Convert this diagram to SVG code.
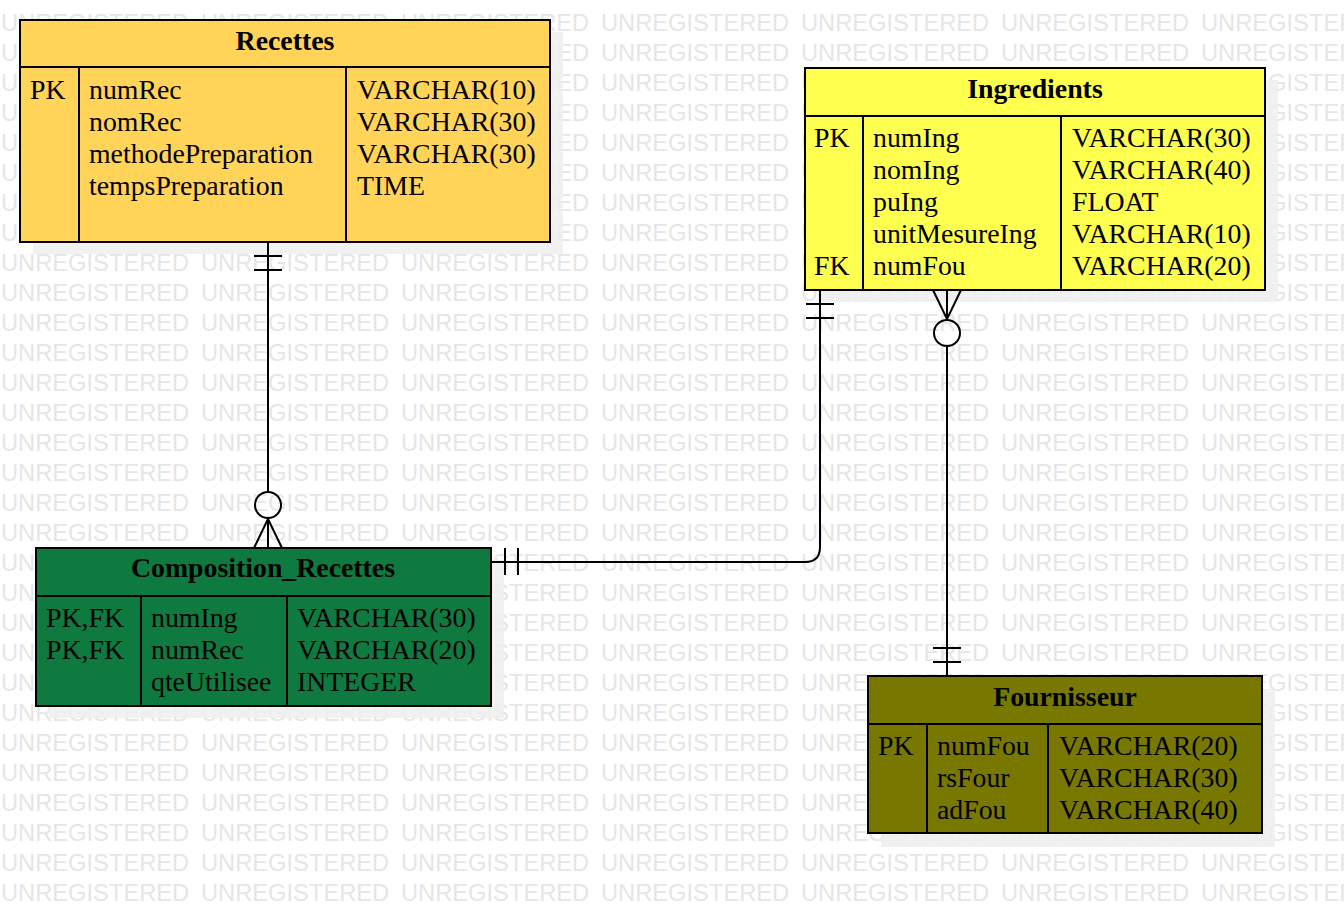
<svg xmlns="http://www.w3.org/2000/svg" xmlns:xlink="http://www.w3.org/1999/xlink" width="1344" height="914" viewBox="0 0 1344 914">
<style>
.wm{font-family:"Liberation Sans",Arial,sans-serif;font-size:23.7px;fill:#e6e6e6}
.shadow{fill:#eeeeee;opacity:0.85}
.box{stroke:#000;stroke-width:2}
.div{stroke:#000;stroke-width:2;fill:none}
.t{font-family:"Liberation Serif","Times New Roman",serif;font-size:27.8px;fill:#000}
.title{font-family:"Liberation Serif","Times New Roman",serif;font-size:27.8px;font-weight:bold;fill:#000;text-anchor:middle}
.conn{stroke:#000;stroke-width:2;fill:none}
</style>
<defs>
<text id="wmrow" class="wm"><tspan x="1">UNREGISTERED</tspan><tspan x="201">UNREGISTERED</tspan><tspan x="401">UNREGISTERED</tspan><tspan x="601">UNREGISTERED</tspan><tspan x="801">UNREGISTERED</tspan><tspan x="1001">UNREGISTERED</tspan><tspan x="1201">UNREGISTERED</tspan></text>
</defs>
<rect width="1344" height="914" fill="#ffffff"/>
<g id="watermark">
<use xlink:href="#wmrow" y="30.5"/><use xlink:href="#wmrow" y="60.5"/><use xlink:href="#wmrow" y="90.5"/><use xlink:href="#wmrow" y="120.5"/><use xlink:href="#wmrow" y="150.5"/><use xlink:href="#wmrow" y="180.5"/><use xlink:href="#wmrow" y="210.5"/><use xlink:href="#wmrow" y="240.5"/><use xlink:href="#wmrow" y="270.5"/><use xlink:href="#wmrow" y="300.5"/><use xlink:href="#wmrow" y="330.5"/><use xlink:href="#wmrow" y="360.5"/><use xlink:href="#wmrow" y="390.5"/><use xlink:href="#wmrow" y="420.5"/><use xlink:href="#wmrow" y="450.5"/><use xlink:href="#wmrow" y="480.5"/><use xlink:href="#wmrow" y="510.5"/><use xlink:href="#wmrow" y="540.5"/><use xlink:href="#wmrow" y="570.5"/><use xlink:href="#wmrow" y="600.5"/><use xlink:href="#wmrow" y="630.5"/><use xlink:href="#wmrow" y="660.5"/><use xlink:href="#wmrow" y="690.5"/><use xlink:href="#wmrow" y="720.5"/><use xlink:href="#wmrow" y="750.5"/><use xlink:href="#wmrow" y="780.5"/><use xlink:href="#wmrow" y="810.5"/><use xlink:href="#wmrow" y="840.5"/><use xlink:href="#wmrow" y="870.5"/><use xlink:href="#wmrow" y="900.5"/>
</g>
<g id="shadows">
<rect class="shadow" x="33" y="32" width="530" height="222"/>
<rect class="shadow" x="818" y="80" width="460" height="222"/>
<rect class="shadow" x="49" y="560" width="455" height="158"/>
<rect class="shadow" x="881" y="689" width="394" height="158"/>
</g>
<g id="Recettes">
<rect class="box" x="20" y="20" width="530" height="222" fill="#FFD458"/>
<line class="div" x1="20" y1="67" x2="550" y2="67"/>
<line class="div" x1="79" y1="67" x2="79" y2="242"/>
<line class="div" x1="346" y1="67" x2="346" y2="242"/>
<text class="title" x="285" y="50">Recettes</text>
<text class="t" x="30" y="99">PK</text>
<text class="t" x="89" y="99">numRec</text>
<text class="t" x="89" y="131">nomRec</text>
<text class="t" x="89" y="163">methodePreparation</text>
<text class="t" x="89" y="195">tempsPreparation</text>
<text class="t" x="357" y="99">VARCHAR(10)</text>
<text class="t" x="357" y="131">VARCHAR(30)</text>
<text class="t" x="357" y="163">VARCHAR(30)</text>
<text class="t" x="357" y="195">TIME</text>
</g>
<g id="Ingredients">
<rect class="box" x="805" y="68" width="460" height="222" fill="#FFFF4F"/>
<line class="div" x1="805" y1="116" x2="1265" y2="116"/>
<line class="div" x1="863" y1="116" x2="863" y2="290"/>
<line class="div" x1="1061" y1="116" x2="1061" y2="290"/>
<text class="title" x="1035" y="98">Ingredients</text>
<text class="t" x="814" y="147">PK</text>
<text class="t" x="814" y="275">FK</text>
<text class="t" x="873" y="147">numIng</text>
<text class="t" x="873" y="179">nomIng</text>
<text class="t" x="873" y="211">puIng</text>
<text class="t" x="873" y="243">unitMesureIng</text>
<text class="t" x="873" y="275">numFou</text>
<text class="t" x="1072" y="147">VARCHAR(30)</text>
<text class="t" x="1072" y="179">VARCHAR(40)</text>
<text class="t" x="1072" y="211">FLOAT</text>
<text class="t" x="1072" y="243">VARCHAR(10)</text>
<text class="t" x="1072" y="275">VARCHAR(20)</text>
</g>
<g id="Composition_Recettes">
<rect class="box" x="36" y="548" width="455" height="158" fill="#0F7A3F"/>
<line class="div" x1="36" y1="596" x2="491" y2="596"/>
<line class="div" x1="141" y1="596" x2="141" y2="706"/>
<line class="div" x1="287" y1="596" x2="287" y2="706"/>
<text class="title" x="263" y="577">Composition_Recettes</text>
<text class="t" x="46" y="627">PK,FK</text>
<text class="t" x="46" y="659">PK,FK</text>
<text class="t" x="151" y="627">numIng</text>
<text class="t" x="151" y="659">numRec</text>
<text class="t" x="151" y="691">qteUtilisee</text>
<text class="t" x="297" y="627">VARCHAR(30)</text>
<text class="t" x="297" y="659">VARCHAR(20)</text>
<text class="t" x="297" y="691">INTEGER</text>
</g>
<g id="Fournisseur">
<rect class="box" x="868" y="676" width="394" height="157" fill="#787800"/>
<line class="div" x1="868" y1="724" x2="1262" y2="724"/>
<line class="div" x1="927" y1="724" x2="927" y2="833"/>
<line class="div" x1="1048" y1="724" x2="1048" y2="833"/>
<text class="title" x="1065" y="706">Fournisseur</text>
<text class="t" x="878" y="755">PK</text>
<text class="t" x="937" y="755">numFou</text>
<text class="t" x="937" y="787">rsFour</text>
<text class="t" x="937" y="819">adFou</text>
<text class="t" x="1059" y="755">VARCHAR(20)</text>
<text class="t" x="1059" y="787">VARCHAR(30)</text>
<text class="t" x="1059" y="819">VARCHAR(40)</text>
</g>
<g id="connectors">
<line class="conn" x1="268" y1="242" x2="268" y2="491"/>
<line class="conn" x1="254" y1="256" x2="282" y2="256"/>
<line class="conn" x1="254" y1="270" x2="282" y2="270"/>
<circle class="conn" cx="268" cy="505" r="13" fill="#ffffff"/>
<path class="conn" d="M268,518 L268,548 M268,519 L254,548 M268,519 L282,548"/>
<path class="conn" d="M820,290 L820,547 Q820,562 805,562 L491,562"/>
<line class="conn" x1="806" y1="304" x2="834" y2="304"/>
<line class="conn" x1="806" y1="318" x2="834" y2="318"/>
<line class="conn" x1="505" y1="548" x2="505" y2="575"/>
<line class="conn" x1="518" y1="548" x2="518" y2="575"/>
<path class="conn" d="M947,290 L947,320 M947,319 L933,290 M947,319 L961,290"/>
<circle class="conn" cx="947" cy="333" r="13" fill="#ffffff"/>
<line class="conn" x1="947" y1="346" x2="947" y2="676"/>
<line class="conn" x1="933" y1="648" x2="961" y2="648"/>
<line class="conn" x1="933" y1="662" x2="961" y2="662"/>
</g>
</svg>
